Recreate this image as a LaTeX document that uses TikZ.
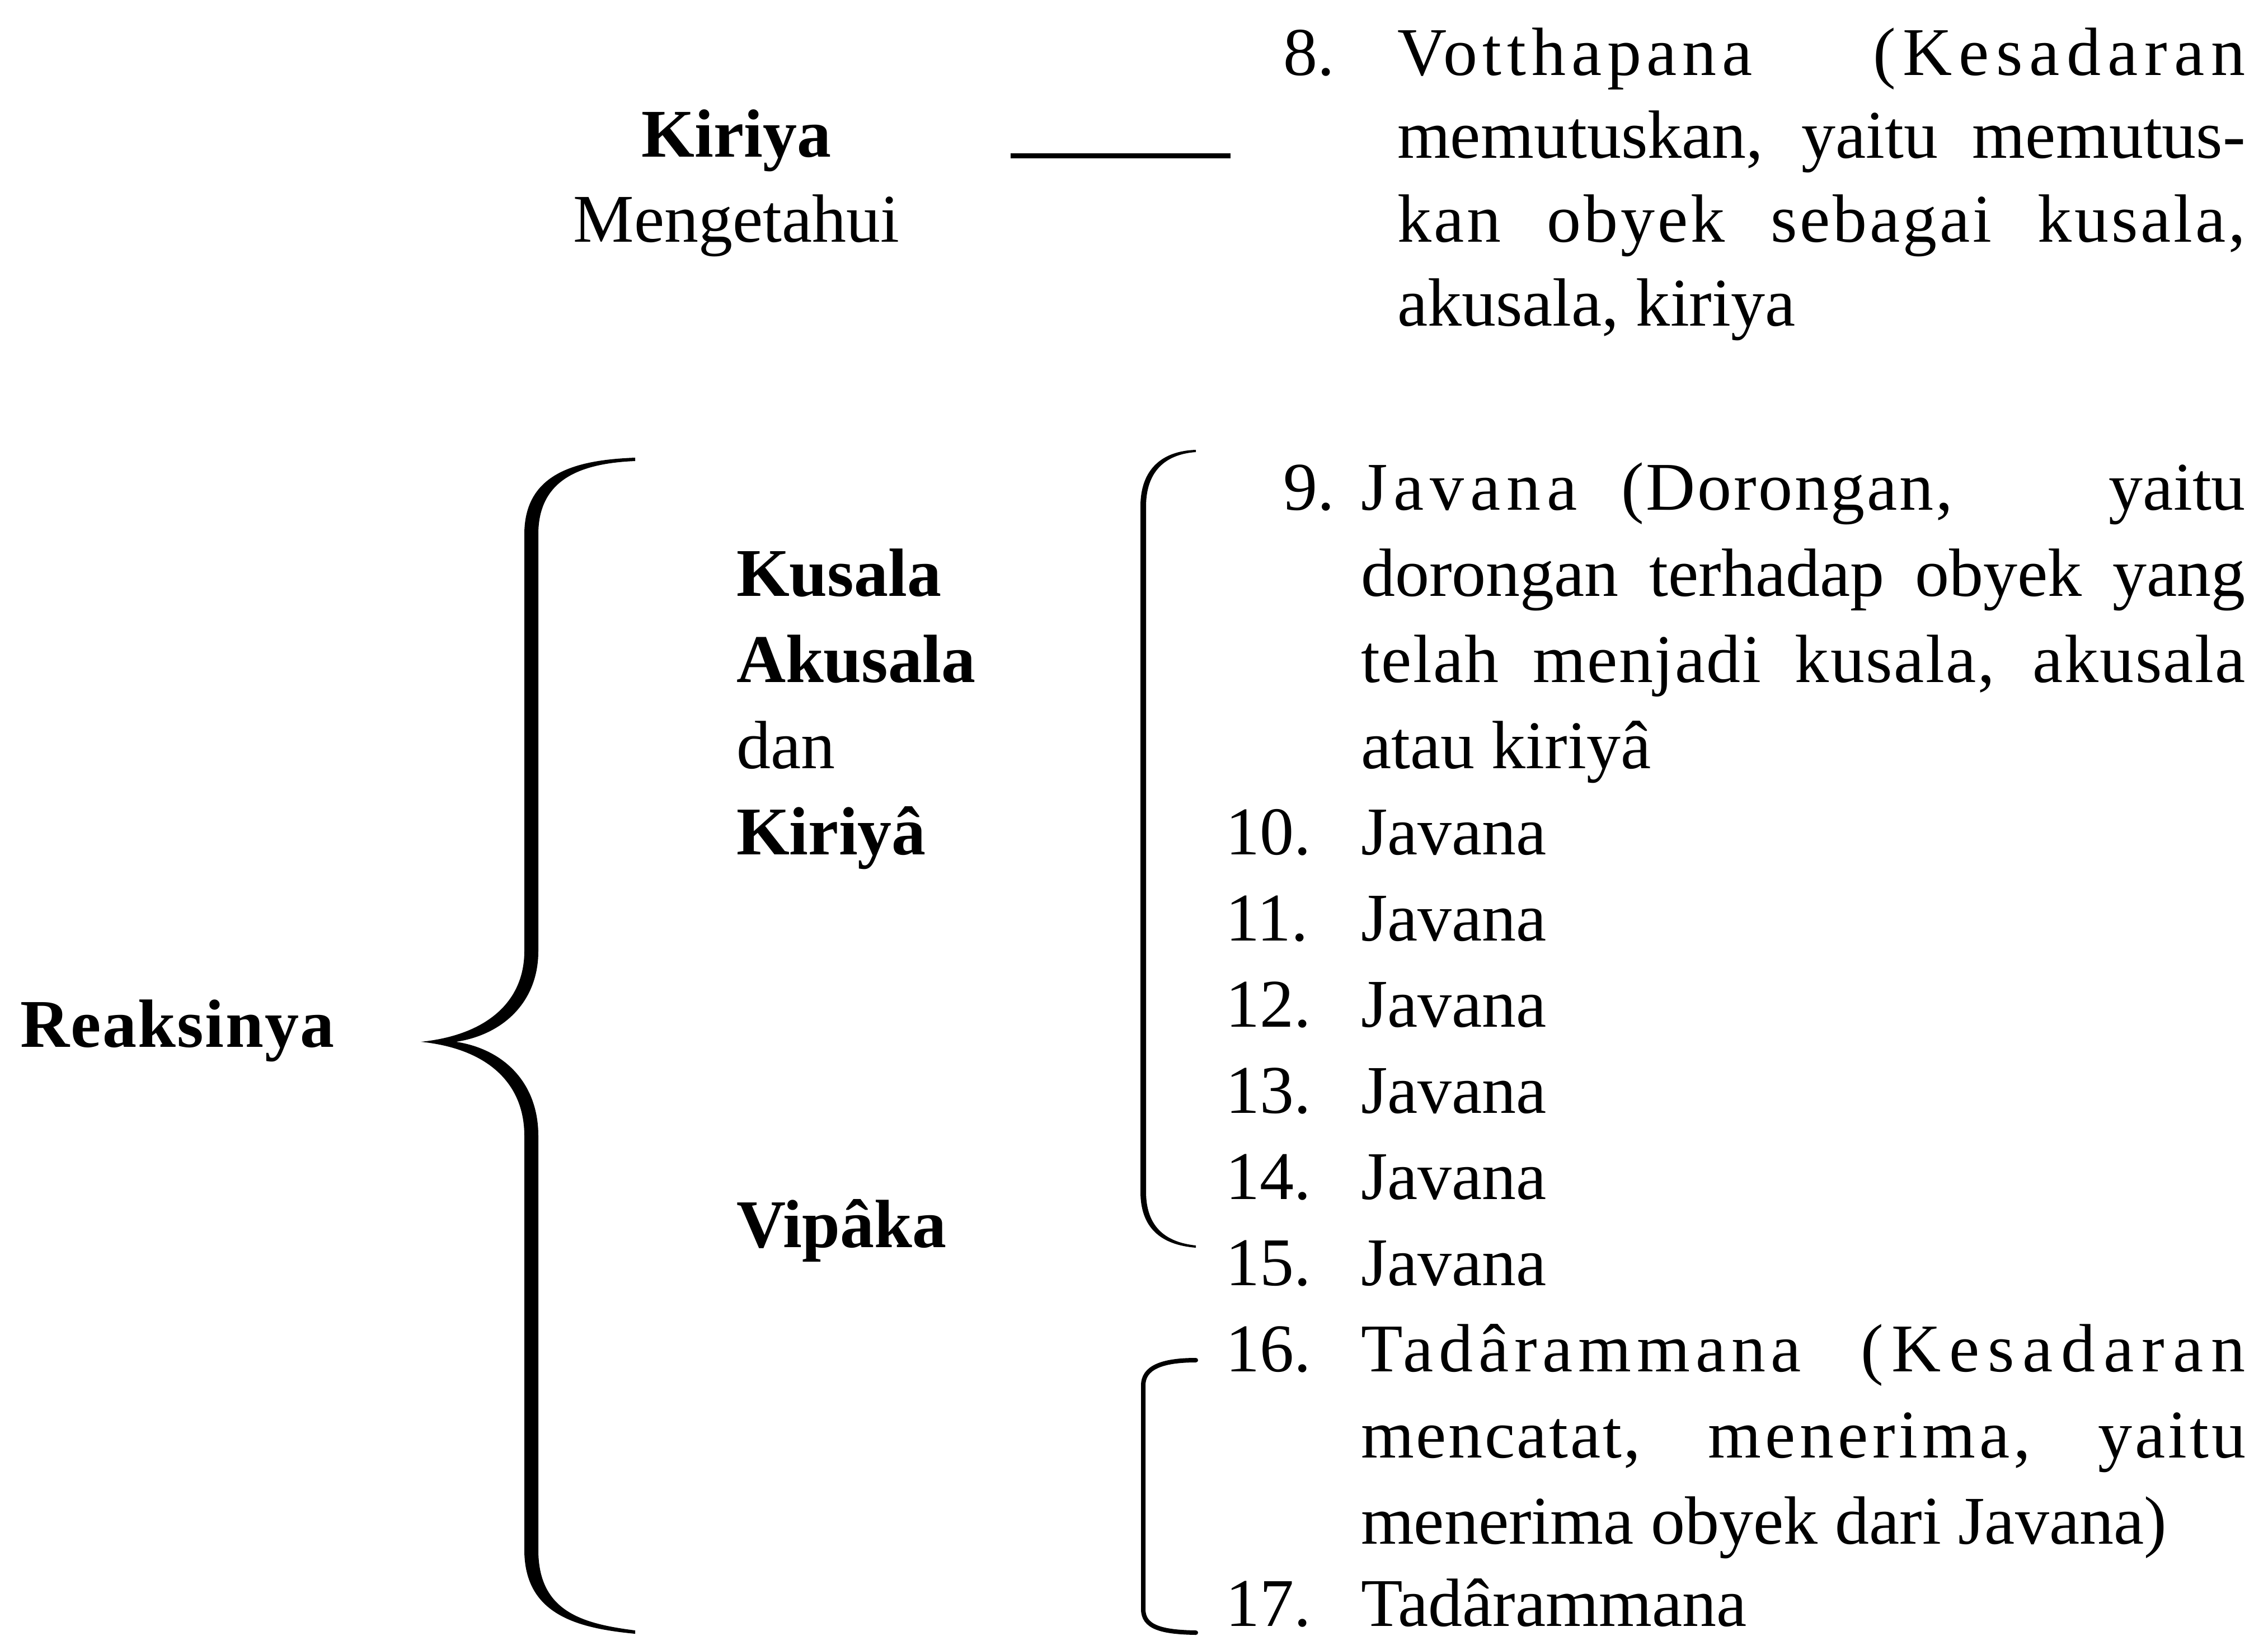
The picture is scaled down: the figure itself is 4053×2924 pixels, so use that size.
\documentclass[tikz,border=0pt]{standalone}
\usepackage{fontspec}
\setmainfont{Liberation Serif}
% tracked text: #1 = letter spacing (per cent of the font size)
\newcommand\tracked[2]{{\addfontfeature{LetterSpace=#1}#2}}
% a full justified line of the given width
\newcommand\fullline[2]{\makebox[#1][s]{#2}}
\begin{document}
\begin{tikzpicture}[x=0.01cm,y=-0.01cm,
  txt/.style={inner sep=0pt,outer sep=0pt,anchor=base west,font=\fontsize{34.7}{43}\selectfont},
  bld/.style={txt,font=\fontsize{34.7}{43}\selectfont\bfseries},
  ink/.style={fill=black,draw=none}]
\useasboundingbox (0,0) rectangle (4053,2924);

% ---- upper group: Kiriya -> item 8
\node[bld,anchor=base] (kiriya) at (1316,280) {Kiriya};
\node[txt,anchor=base] (meng) at (1316,432) {Mengetahui};
\coordinate (dashL) at (1806,278);
\coordinate (dashR) at (2199,278);
\draw[line width=0.09cm] (dashL) -- (dashR);

\node[txt] (n8) at (2293,134) {8.};
\node[txt] (t8a) at (2497,134) {\fullline{15.15cm}{\tracked{8}{Votthapana} \tracked{10}{(Kesadaran}}};
\node[txt] (t8b) at (2497,282) {\fullline{15.15cm}{memutuskan, yaitu memutus-}};
\node[txt] (t8c) at (2497,432) {\fullline{15.15cm}{\tracked{4}{kan obyek sebagai kusala,}}};
\node[txt] (t8d) at (2497,582) {akusala, kiriya};

% ---- left labels
\node[bld] (reaksi) at (36,1871) {\tracked{2}{Reaksinya}};
\node[bld] (kus) at (1316,1065) {Kusala};
\node[bld] (akus) at (1316,1219) {Akusala};
\node[txt] (dan) at (1316,1373) {dan};
\node[bld] (kiri2) at (1316,1527) {Kiriyâ};
\node[bld] (vip) at (1316,2229) {Vipâka};

% ---- main brace
\fill[ink] (1135,818) .. controls (1030,822) and (937,845) .. (937,955)
  -- (937,1700) .. controls (937,1790) and (870,1850) .. (752,1862)
  .. controls (870,1874) and (937,1935) .. (937,2030)
  -- (937,2770) .. controls (937,2885) and (1030,2910) .. (1135,2920)
  -- (1135,2914) .. controls (1040,2902) and (962,2880) .. (962,2770)
  -- (962,2030) .. controls (962,1935) and (900,1875) .. (815,1862)
  .. controls (900,1849) and (962,1790) .. (962,1700)
  -- (962,955) .. controls (962,855) and (1040,828) .. (1135,824) -- cycle;

% ---- bracket of the javana items
\fill[ink] (2137,804) .. controls (2075,806) and (2038,840) .. (2038,905)
  -- (2038,2130) .. controls (2038,2195) and (2075,2225) .. (2137,2230)
  -- (2137,2226) .. controls (2080,2220) and (2048,2190) .. (2048,2130)
  -- (2048,905) .. controls (2048,845) and (2080,812) .. (2137,808) -- cycle;

% ---- bracket of the tadarammana items
\draw[line width=0.08cm,line cap=round] (2137,2431) .. controls (2075,2431) and (2043,2445) .. (2043,2476)
  -- (2043,2876) .. controls (2043,2908) and (2075,2917) .. (2137,2918);

% ---- items 9 to 17
\node[txt] (n9) at (2293,911) {9.};
\node[txt] (t9a) at (2432,911) {\fullline{15.8cm}{\tracked{9}{Javana}\hspace{0.25cm} \tracked{3}{(Dorongan,}\hspace{2.2cm} yaitu}};
\node[txt] (t9b) at (2432,1065) {\fullline{15.8cm}{dorongan terhadap obyek yang}};
\node[txt] (t9c) at (2432,1219) {\fullline{15.8cm}{\tracked{2}{telah menjadi kusala, akusala}}};
\node[txt] (t9d) at (2432,1373) {atau kiriyâ};
\node[txt] (n10) at (2190,1527) {10.};
\node[txt] (t10) at (2432,1527) {Javana};
\node[txt] (n11) at (2190,1681) {11.};
\node[txt] (t11) at (2432,1681) {Javana};
\node[txt] (n12) at (2190,1835) {12.};
\node[txt] (t12) at (2432,1835) {Javana};
\node[txt] (n13) at (2190,1989) {13.};
\node[txt] (t13) at (2432,1989) {Javana};
\node[txt] (n14) at (2190,2143) {14.};
\node[txt] (t14) at (2432,2143) {Javana};
\node[txt] (n15) at (2190,2297) {15.};
\node[txt] (t15) at (2432,2297) {Javana};
\node[txt] (n16) at (2190,2451) {16.};
\node[txt] (t16a) at (2432,2451) {\fullline{15.8cm}{\tracked{8}{Tadârammana} \tracked{12}{(Kesadaran}}};
\node[txt] (t16b) at (2432,2605) {\fullline{15.8cm}{\tracked{3}{mencatat,} \tracked{6}{menerima,} \tracked{4}{yaitu}}};
\node[txt] (t16c) at (2432,2759) {menerima obyek dari Javana)};
\node[txt] (n17) at (2190,2906) {17.};
\node[txt] (t17) at (2432,2906) {Tadârammana};
\end{tikzpicture}
\end{document}
